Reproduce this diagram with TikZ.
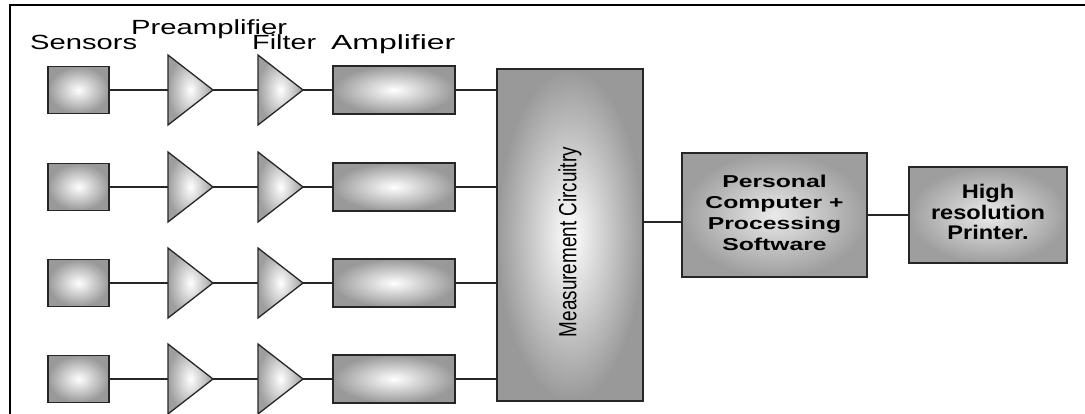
\documentclass[tikz,border=0pt]{standalone}
\usepackage{fontspec}
\usepackage{graphicx}
\setmainfont{Liberation Sans}
\newcommand{\fitw}[2]{\resizebox{#1}{\height}{#2}}
\tikzset{
  frameline/.style={line width=2.7pt, black},
  wire/.style={draw=black!85, line width=1.2pt},
  blk/.style={draw=black!85, line width=1.4pt, shading=radial, inner color=white, outer color=black!40, inner sep=0pt},
  darkblk/.style={blk, inner color=black!8, outer color=black!38},
  sensorbox/.style={blk, minimum width=61pt, minimum height=47pt},
  ampbox/.style={blk, minimum width=122pt, minimum height=48pt},
  tri/.style={draw=black!85, line width=1.3pt, shading=radial, inner color=white, outer color=black!38, line join=miter},
  lab/.style={inner sep=0pt, anchor=base west, font=\fontsize{20.5}{24}\selectfont},
}
\begin{document}
\begin{tikzpicture}[x=1pt,y=-1pt]
\useasboundingbox (0,0) rectangle (1085,414);
\draw[frameline] (10,414) -- (10,5) -- (1085,5);

% labels
\node[lab] (lsens) at (30,50) {\fitw{107pt}{Sensors}};
\node[lab] (lpre) at (131,35) {\fitw{156pt}{Preamplifier}};
\node[lab] (lfil) at (252,50) {\fitw{64pt}{Filter}};
\node[lab] (lamp) at (331,50) {\fitw{124pt}{Amplifier}};

% measurement circuitry
\node[blk, minimum width=146pt, minimum height=332pt] (meas) at (570,235) {};
\node[rotate=90, inner sep=0pt, font=\fontsize{19}{19}\selectfont] (mtext) at (570,242) {\resizebox{190pt}{18pt}{Measurement Circuitry}};

% channels
\foreach \r/\y in {1/90,2/187,3/283,4/379} {
  \node[sensorbox] (s\r) at (78.5,\y) {};
  \draw[tri] (168,{\y-35}) -- (213,\y) -- (168,{\y+35}) -- cycle;
  \coordinate (pa\r) at (168,\y);
  \coordinate (pb\r) at (213,\y);
  \draw[tri] (258,{\y-35}) -- (303,\y) -- (258,{\y+35}) -- cycle;
  \coordinate (fa\r) at (258,\y);
  \coordinate (fb\r) at (303,\y);
  \node[ampbox] (a\r) at (394,\y) {};
  \draw[wire] (s\r.east) -- (pa\r);
  \draw[wire] (pb\r) -- (fa\r);
  \draw[wire] (fb\r) -- (a\r.west);
  \draw[wire] (a\r.east) -- (meas.west |- a\r.east);
}

% PC and printer
\node[darkblk, minimum width=185pt, minimum height=124pt,
      font=\bfseries\fontsize{17.2}{21}\selectfont] (pc) at (774.5,215)
      {\fitw{138pt}{\begin{tabular}{@{}c@{}}Personal\\Computer +\\Processing\\Software\end{tabular}}};
\node[darkblk, minimum width=158pt, minimum height=96pt,
      font=\bfseries\fontsize{19.7}{20.5}\selectfont] (pr) at (988,215)
      {\fitw{114pt}{\begin{tabular}{@{}c@{}}High\\resolution\\Printer.\end{tabular}}};
\coordinate (pcin) at ([yshift=-7pt]pc.west);
\draw[wire] (meas.east |- pcin) -- (pcin);
\draw[wire] (pc.east) -- (pr.west);
\end{tikzpicture}
\end{document}
